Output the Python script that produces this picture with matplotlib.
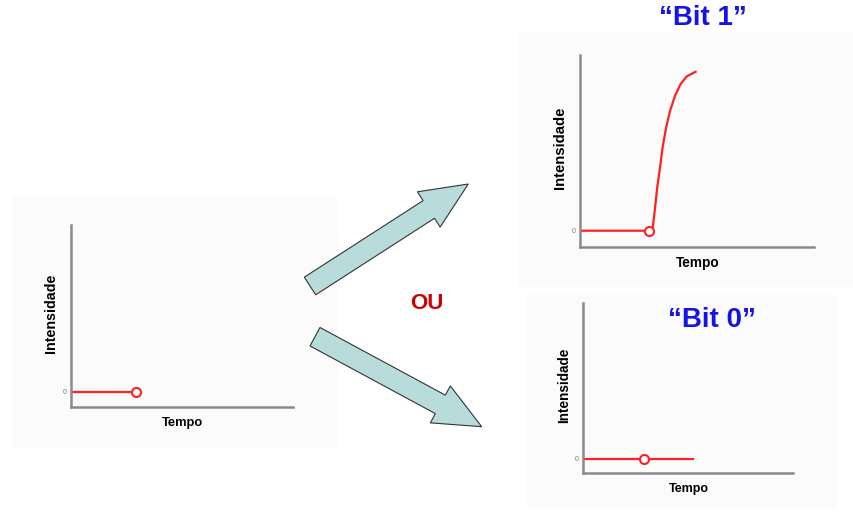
import matplotlib
matplotlib.use("Agg")
import matplotlib.pyplot as plt
from matplotlib.patches import FancyArrow, Rectangle

plt.rcParams["font.family"] = ["Liberation Sans", "DejaVu Sans"]

# data (time and intensity in axis units)
left_t = [0.0, 0.295]
left_i = [0.0, 0.0]
bit1_t = [0.0, 0.296, 0.311, 0.321, 0.330, 0.342, 0.353, 0.368, 0.385, 0.406, 0.430, 0.456, 0.494]
bit1_i = [0.0, 0.0, 0.021, 0.146, 0.271, 0.396, 0.521, 0.647, 0.751, 0.845, 0.918, 0.966, 0.995]
bit0_t = [0.0, 0.293, 0.523]
bit0_i = [0.0, 0.0, 0.0]
mark_t = {"left": 0.295, "bit1": 0.296, "bit0": 0.293}
titles = ["\u201cBit 1\u201d", "\u201cBit 0\u201d"]
middle_text = "OU"
xlabel = "Tempo"
ylabel = "Intensidade"

W, H = 854, 516
fig = plt.figure(figsize=(W / 100, H / 100), dpi=100)
fig.patch.set_facecolor("white")

# overlay in pixel units for the backgrounds and arrows
bg = fig.add_axes([0, 0, 1, 1])
bg.set_xlim(0, W)
bg.set_ylim(H, 0)
bg.axis("off")
for (x0, y0, x1, y1) in [(12, 197, 338, 448), (518, 32, 853, 287), (527, 295, 837, 508)]:
    bg.add_patch(Rectangle((x0, y0), x1 - x0, y1 - y0, facecolor="#fbfbfb",
                           edgecolor="none", zorder=0))
for (x0, y0, x1, y1) in [(310, 286, 468.3, 184), (315, 336.7, 481.7, 426.7)]:
    bg.add_patch(FancyArrow(x0, y0, x1 - x0, y1 - y0, width=21, head_width=42,
                            head_length=47, length_includes_head=True,
                            facecolor="#b8dcdc", edgecolor="#333333", lw=0.8, zorder=2))


def px_axes(x0, y0, x1, y1):
    return fig.add_axes([x0 / W, 1 - y1 / H, (x1 - x0) / W, (y1 - y0) / H])


def style(ax, xl_pos, yl_pos, fs_y, fs_x):
    ax.set_facecolor("none")
    ax.set_xlim(0, 1)
    ax.set_ylim(-0.1, 1.1)
    for s in ["top", "right"]:
        ax.spines[s].set_visible(False)
    for s in ["left", "bottom"]:
        ax.spines[s].set_color("#8a8a8a")
        ax.spines[s].set_linewidth(1.8)
    ax.set_xticks([])
    ax.set_yticks([0])
    ax.set_yticklabels(["0"])
    ax.tick_params(axis="y", length=0, pad=3, labelsize=5, labelcolor="#777777")
    ax.set_xlabel(xlabel, fontsize=fs_x, fontweight="bold", va="center")
    ax.set_ylabel(ylabel, fontsize=fs_y, fontweight="bold", va="center")
    ax.xaxis.set_label_coords(*xl_pos)
    ax.yaxis.set_label_coords(*yl_pos)


red = "#ff2020"

ax1 = px_axes(70.7, 225, 293, 407)
style(ax1, (0.504, -0.088), (-0.09, 0.516), 10.3, 9.3)
ax1.plot(left_t, left_i, color=red, lw=1.6)
ax1.plot([mark_t["left"]], [0], "o", ms=6.5, mfc="white", mec=red, mew=1.5, clip_on=False)

ax2 = px_axes(580, 55, 814, 246.7)
style(ax2, (0.504, -0.085), (-0.085, 0.515), 10.7, 9.8)
ax2.plot(bit1_t, bit1_i, color=red, lw=1.6, solid_joinstyle="round")
ax2.plot([mark_t["bit1"]], [0], "o", ms=6.5, mfc="white", mec=red, mew=1.5, clip_on=False)

ax3 = px_axes(582.7, 302.7, 793, 472.7)
style(ax3, (0.505, -0.096), (-0.089, 0.516), 9.8, 9.0)
ax3.plot(bit0_t, bit0_i, color=red, lw=1.6)
ax3.plot([mark_t["bit0"]], [0], "o", ms=6.5, mfc="white", mec=red, mew=1.5, clip_on=False)

fig.text(703 / W, 1 - 18 / H, titles[0], color="#1414e6", fontsize=20,
         fontweight="bold", ha="center", va="center")
fig.text(711.7 / W, 1 - 320 / H, titles[1], color="#1414e6", fontsize=20,
         fontweight="bold", ha="center", va="center")
fig.text(426.7 / W, 1 - 303.3 / H, middle_text, color="#cc0000", fontsize=16,
         fontweight="bold", ha="center", va="center")

fig.savefig("out.png", dpi=100)
